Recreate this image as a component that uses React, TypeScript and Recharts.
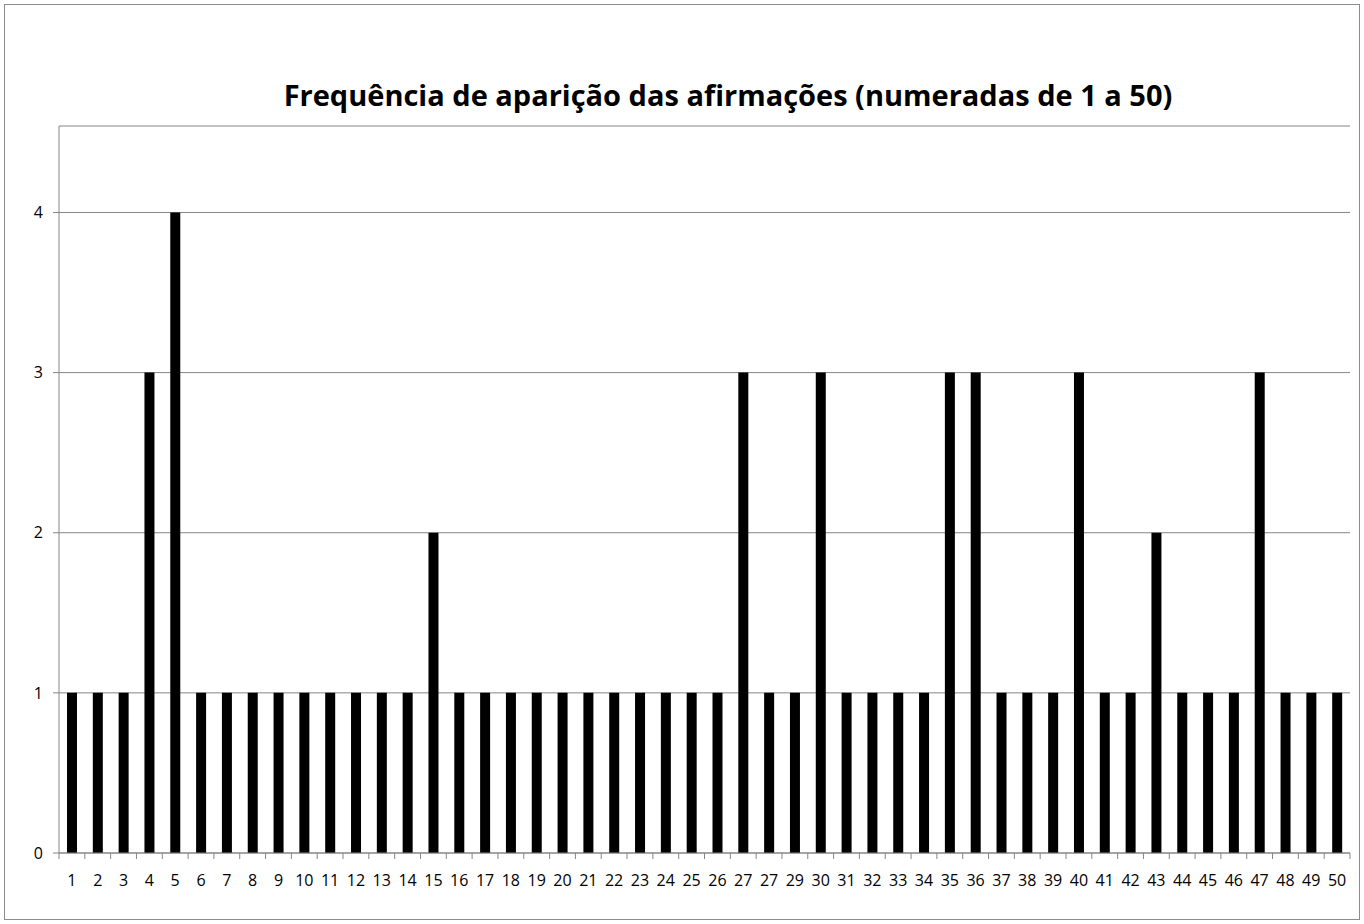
import { Bar, BarChart, CartesianGrid, XAxis, YAxis } from "recharts";

const labels = [
  "1", "2", "3", "4", "5", "6", "7", "8", "9", "10",
  "11", "12", "13", "14", "15", "16", "17", "18", "19", "20",
  "21", "22", "23", "24", "25", "26", "27", "27", "29", "30",
  "31", "32", "33", "34", "35", "36", "37", "38", "39", "40",
  "41", "42", "43", "44", "45", "46", "47", "48", "49", "50",
];

const frequencies = [
  1, 1, 1, 3, 4, 1, 1, 1, 1, 1,
  1, 1, 1, 1, 2, 1, 1, 1, 1, 1,
  1, 1, 1, 1, 1, 1, 3, 1, 1, 3,
  1, 1, 1, 1, 3, 3, 1, 1, 1, 3,
  1, 1, 2, 1, 1, 1, 3, 1, 1, 1,
];

const yTicks = [0, 1, 2, 3, 4];

const data = labels.map((label, i) => ({ key: `c${i}`, label, value: frequencies[i] }));

const CHART_W = 1354;
const CHART_H = 914;
const MARGIN = { top: 121, right: 9, bottom: 36, left: 0 };
const Y_W = 54;
const BAND = (CHART_W - MARGIN.left - MARGIN.right - Y_W) / labels.length;
const AXIS_GRAY = "#868686";
const TICK_OFFSET = 22; // tickSize + tickMargin

function XTick(props: any) {
  const { x, y, payload, index } = props;
  const axisY = y - TICK_OFFSET;
  const half = BAND / 2;
  return (
    <g>
      <line x1={x - half} x2={x - half} y1={axisY} y2={axisY + 6} stroke={AXIS_GRAY} />
      {index === labels.length - 1 && (
        <line x1={x + half} x2={x + half} y1={axisY} y2={axisY + 6} stroke={AXIS_GRAY} />
      )}
      <text x={x} y={y} dy="0.71em" textAnchor="middle" fill="#000" fontSize={16} fontFamily="Open Sans">
        {labels[index] ?? payload.value}
      </text>
    </g>
  );
}

export default function App() {
  return (
    <div
      style={{
        position: "absolute",
        left: 4,
        top: 4,
        width: CHART_W,
        height: CHART_H,
        border: "1px solid #8c8c8c",
        background: "#fff",
      }}
    >
      <div
        style={{
          position: "absolute",
          left: 123,
          width: 1200,
          top: 70,
          textAlign: "center",
          fontFamily: "Open Sans",
          fontWeight: 700,
          fontSize: 29,
          whiteSpace: "nowrap",
          color: "#000",
        }}
      >
        Frequência de aparição das afirmações (numeradas de 1 a 50)
      </div>
      <BarChart width={CHART_W} height={CHART_H} data={data} margin={MARGIN}>
        <CartesianGrid vertical={false} stroke={AXIS_GRAY} />
        <XAxis
          dataKey="key"
          stroke={AXIS_GRAY}
          tickLine={false}
          tickSize={6}
          tickMargin={16}
          height={30}
          interval={0}
          tick={<XTick />}
        />
        <YAxis
          width={Y_W}
          domain={[0, 4.54]}
          ticks={yTicks}
          allowDataOverflow
          stroke={AXIS_GRAY}
          tickSize={6}
          tickMargin={10}
          tick={{ fill: "#000", fontSize: 16, fontFamily: "Open Sans" }}
        />
        <Bar dataKey="value" fill="#000" barSize={10} isAnimationActive={false} />
      </BarChart>
    </div>
  );
}
